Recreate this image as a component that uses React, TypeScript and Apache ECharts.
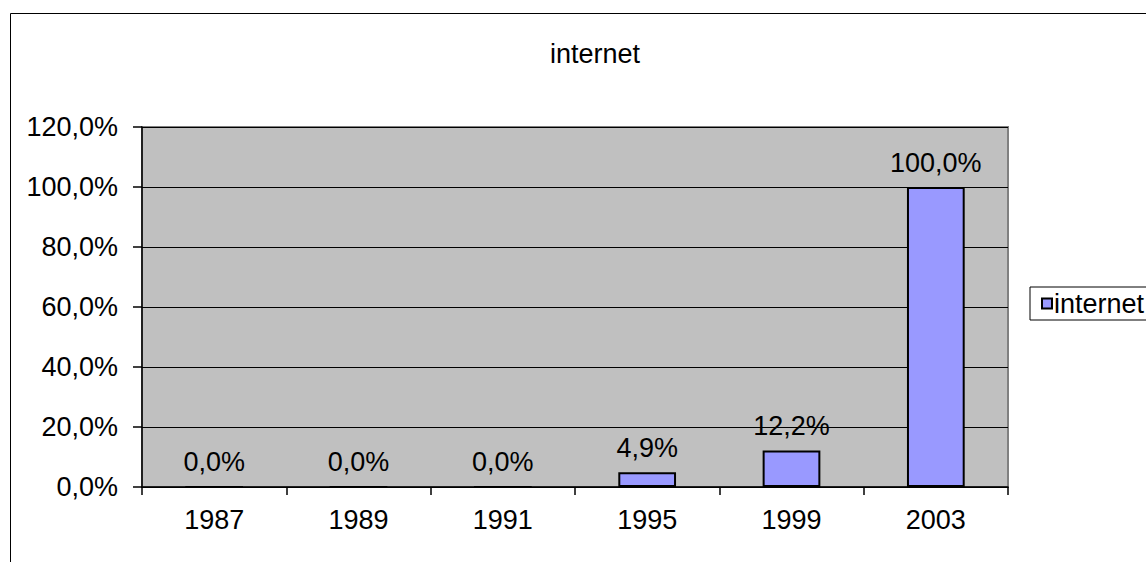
import React, { useEffect, useRef } from "react";
import * as echarts from "echarts";

const categories = ["1987", "1989", "1991", "1995", "1999", "2003"];
const values = [0, 0, 0, 4.9, 12.2, 100];
const seriesName = "internet";
const titleText = "internet";
const yMin = 0;
const yMax = 120;
const yInterval = 20;

const FONT = "'Liberation Sans', Arial, sans-serif";
const FS = 27;
const fmt = (v: number) => v.toFixed(1).replace(".", ",") + "%";

export default function App() {
  const ref = useRef<HTMLDivElement>(null);
  useEffect(() => {
    if (!ref.current) return;
    const chart = echarts.init(ref.current, undefined, { renderer: "svg" });
    chart.setOption({
      animation: false,
      backgroundColor: "#ffffff",
      textStyle: { fontFamily: FONT },
      graphic: [
        {
          type: "rect",
          shape: { x: 10.5, y: 13.5, width: 1300, height: 700 },
          style: { fill: "none", stroke: "#000", lineWidth: 1 },
          silent: true,
          z: -10,
        },
      ],
      title: {
        text: titleText,
        left: 595,
        top: 40,
        textAlign: "center",
        padding: 0,
        textStyle: { fontFamily: FONT, fontSize: FS, fontWeight: "normal", color: "#000" },
      },
      legend: {
        left: 1030,
        top: 287,
        orient: "vertical",
        padding: [3, 12, 3, 11],
        itemWidth: 10,
        itemHeight: 10,
        borderColor: "#000",
        borderWidth: 1,
        backgroundColor: "#fff",
        icon: "rect",
        textStyle: { fontFamily: FONT, fontSize: FS, color: "#000", padding: [0, 0, 0, -3] },
        data: [seriesName],
      },
      grid: {
        left: 142,
        top: 127,
        width: 866,
        height: 360,
        show: true,
        backgroundColor: "#c0c0c0",
        borderColor: "#808080",
        borderWidth: 2,
      },
      xAxis: {
        type: "category",
        data: categories,
        axisLine: { lineStyle: { color: "#000", width: 1.5 } },
        axisTick: { show: true, length: 8, lineStyle: { color: "#000", width: 1.5 } },
        axisLabel: { margin: 19, fontFamily: FONT, fontSize: FS, color: "#000" },
        splitLine: { show: false },
      },
      yAxis: {
        type: "value",
        min: yMin,
        max: yMax,
        interval: yInterval,
        axisLine: { show: true, lineStyle: { color: "#000", width: 1.5 } },
        axisTick: { show: true, length: 9, lineStyle: { color: "#000", width: 1.5 } },
        axisLabel: {
          margin: 24,
          fontFamily: FONT,
          fontSize: FS,
          color: "#000",
          formatter: (v: number) => fmt(v),
        },
        splitLine: { show: true, lineStyle: { color: "#000", width: 1 } },
      },
      series: [
        {
          name: seriesName,
          type: "bar",
          data: values,
          barWidth: "40%",
          itemStyle: { color: "#9999ff", borderColor: "#000", borderWidth: 2 },
          label: {
            show: true,
            position: "top",
            distance: 11,
            fontFamily: FONT,
            fontSize: FS,
            color: "#000",
            formatter: (p: any) => fmt(p.value),
          },
        },
      ],
    });
    return () => chart.dispose();
  }, []);
  return (
    <div
      ref={ref}
      style={{ position: "fixed", left: 0, top: 0, width: 1146, height: 562 }}
    />
  );
}
